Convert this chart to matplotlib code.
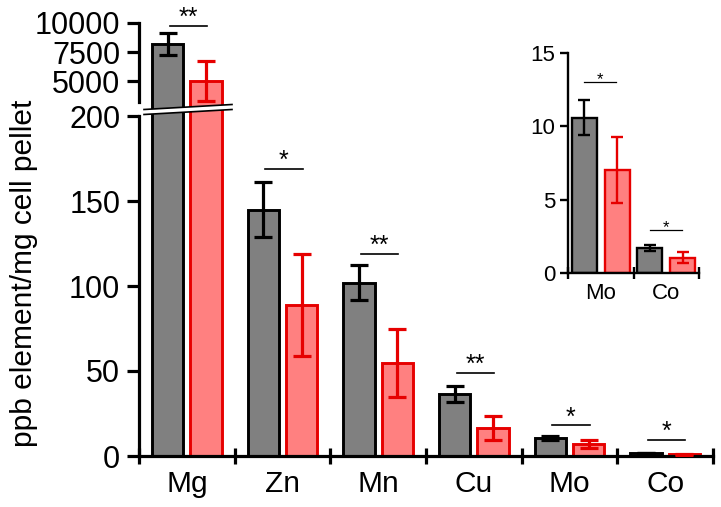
import matplotlib.pyplot as plt
from matplotlib.lines import Line2D
from matplotlib.patches import Polygon
import numpy as np

plt.rcParams['font.family'] = ['Liberation Sans', 'DejaVu Sans']

# data
elements = ['Mg', 'Zn', 'Mn', 'Cu', 'Mo', 'Co']
ctrl = [8200, 145, 102, 36.5, 10.6, 1.7]
ctrl_err = [950, 16, 10.5, 4.7, 1.2, 0.2]
treat = [5000, 89, 55, 16.5, 7.0, 1.05]
treat_err = [1700, 30, 20, 6.8, 2.25, 0.4]
sig_marks = ['**', '*', '**', '**', '*', '*']
sig_heights = [9770, 169, 119, 49, 18, 9.4]  # Mg height in top-panel units

inset_elements = ['Mo', 'Co']
inset_sig_marks = ['*', '*']
inset_sig_heights = [13.0, 2.9]

GRAY = '#808080'
RED_FILL = '#FF8080'
RED_EDGE = '#E60000'

W, H = 721, 507


def px_box(x0, y_top, x1, y_bot):
    """Axes rect in figure fractions from pixel coords (origin top-left)."""
    return [x0 / W, 1 - y_bot / H, (x1 - x0) / W, (y_bot - y_top) / H]


def fpt(x, y):
    return (x / W, 1 - y / H)


def draw_bars(ax, idx, c, ce, t, te, width, offset, lw, elw, cap):
    x = np.asarray(idx) + 0.5
    ax.bar(x - offset, c, width, color=GRAY, edgecolor='black', linewidth=lw, zorder=2)
    ax.bar(x + offset, t, width, color=RED_FILL, edgecolor=RED_EDGE, linewidth=lw, zorder=2)
    ax.errorbar(x - offset, c, yerr=ce, fmt='none', ecolor='black', elinewidth=elw,
                capsize=cap, capthick=elw, zorder=3)
    ax.errorbar(x + offset, t, yerr=te, fmt='none', ecolor=RED_EDGE, elinewidth=elw,
                capsize=cap, capthick=elw, zorder=3)


fig = plt.figure(figsize=(W / 100, H / 100), dpi=100)

ax_lo = fig.add_axes(px_box(139, 116, 713, 456))
ax_hi = fig.add_axes(px_box(139, 23, 713, 116), sharex=ax_lo)

idx = np.arange(len(elements))
for ax in (ax_lo, ax_hi):
    draw_bars(ax, idx, ctrl, ctrl_err, treat, treat_err, 0.33, 0.2, 2.1, 2.3, 6.5)
    for s in ('top', 'right'):
        ax.spines[s].set_visible(False)
    ax.spines['left'].set_linewidth(2.3)
    ax.tick_params(axis='y', direction='out', length=8.5, width=2.3, labelsize=22, pad=5)

ax_lo.set_xlim(0, 6)
ax_lo.set_ylim(0, 200)
ax_lo.set_yticks([0, 50, 100, 150, 200])
ax_lo.spines['bottom'].set_linewidth(2.3)
ax_lo.set_xticks(np.arange(0, 7))
ax_lo.set_xticklabels([])
ax_lo.set_xticks(idx + 0.5, minor=True)
ax_lo.set_xticklabels(elements, minor=True)
ax_lo.tick_params(axis='x', which='major', direction='inout', length=11, width=2.3)
ax_lo.tick_params(axis='x', which='minor', length=0, labelsize=21.5, pad=10)

ax_hi.set_ylim(2000, 10000)
ax_hi.set_yticks([5000, 7500, 10000])
ax_hi.spines['bottom'].set_visible(False)
ax_hi.spines['left'].set_bounds(3200, 10000)
ax_hi.tick_params(axis='x', which='both', bottom=False, labelbottom=False)
ax_hi.patch.set_alpha(0)

fig.text(24 / W, 1 - 273 / H, 'ppb element/mg cell pellet', rotation=90,
         ha='center', va='center', fontsize=21.5)

# significance bars
for i, (mark, h) in enumerate(zip(sig_marks, sig_heights)):
    ax = ax_hi if i == 0 else ax_lo
    x0, x1 = i + 0.5 - 0.18, i + 0.5 + 0.21
    ax.plot([x0, x1], [h, h], color='black', lw=1.2, clip_on=False, zorder=4)
    ax.annotate(mark, xy=((x0 + x1) / 2, h), xytext=(0, 0.5), textcoords='offset points',
                ha='center', va='baseline', fontsize=18, annotation_clip=False)

# axis break marks (white band between two slanted lines)
band = Polygon([fpt(144, 109.5), fpt(232, 104.5), fpt(232, 109.5), fpt(144, 114.5)],
               closed=True, transform=fig.transFigure, facecolor='white',
               edgecolor='none', zorder=10)
fig.add_artist(band)
for dy in (0, 5):
    p0, p1 = fpt(144, 109.5 + dy), fpt(232, 104.5 + dy)
    fig.add_artist(Line2D([p0[0], p1[0]], [p0[1], p1[1]], transform=fig.transFigure,
                          color='black', lw=1.2, zorder=11))

# inset with Mo and Co
ax_in = fig.add_axes(px_box(568, 53, 699, 273))
in_idx = np.arange(len(inset_elements))
draw_bars(ax_in, in_idx, ctrl[4:], ctrl_err[4:], treat[4:], treat_err[4:],
          0.38, 0.25, 1.7, 1.7, 4.5)
ax_in.set_xlim(0, 2)
ax_in.set_ylim(0, 15)
ax_in.set_yticks([0, 5, 10, 15])
for s in ('top', 'right'):
    ax_in.spines[s].set_visible(False)
for s in ('left', 'bottom'):
    ax_in.spines[s].set_linewidth(1.7)
ax_in.tick_params(axis='y', direction='out', length=6, width=1.7, labelsize=16, pad=3)
ax_in.set_xticks([0, 1, 2])
ax_in.set_xticklabels([])
ax_in.set_xticks(in_idx + 0.5, minor=True)
ax_in.set_xticklabels(inset_elements, minor=True)
ax_in.tick_params(axis='x', which='major', direction='inout', length=9, width=1.7)
ax_in.tick_params(axis='x', which='minor', length=0, labelsize=16, pad=7)
ax_in.patch.set_alpha(0)

for i, (mark, h) in enumerate(zip(inset_sig_marks, inset_sig_heights)):
    x0, x1 = i + 0.5 - 0.25, i + 0.5 + 0.24
    ax_in.plot([x0, x1], [h, h], color='black', lw=0.9, zorder=4)
    ax_in.annotate(mark, xy=((x0 + x1) / 2, h), xytext=(0, -1.5), textcoords='offset points',
                   ha='center', va='baseline', fontsize=12)

fig.savefig('out.png', dpi=100)
